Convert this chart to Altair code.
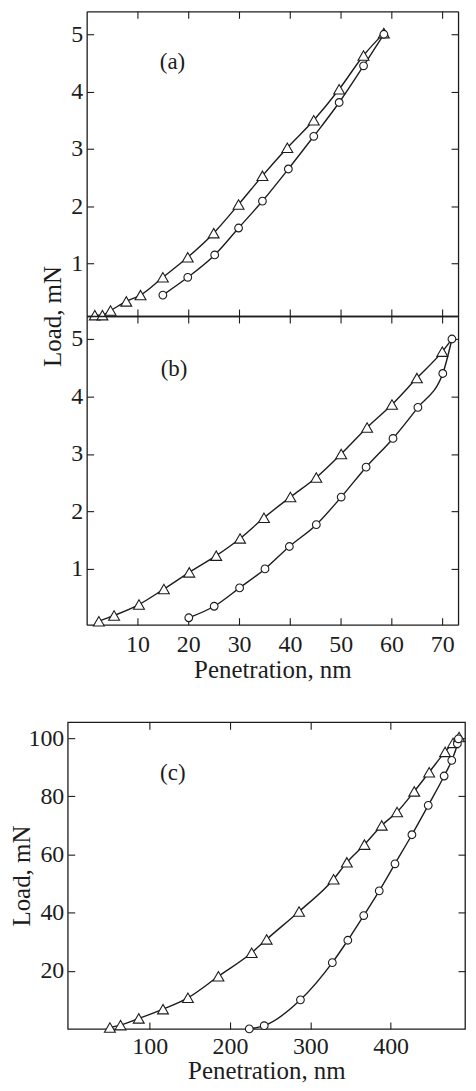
import altair as alt
import pandas as pd

# ---------------- data ----------------
# panel (a)
a_load_x = [1.6, 3.1, 4.7, 7.8, 10.6, 15.0, 19.9, 25.0, 29.9, 34.6, 39.5, 44.7, 49.7, 54.5, 58.5]
a_load_y = [0.10, 0.10, 0.18, 0.34, 0.45, 0.76, 1.11, 1.53, 2.03, 2.53, 3.02, 3.50, 4.04, 4.63, 5.02]
a_unload_x = [15.0, 19.9, 25.2, 29.9, 34.6, 39.7, 44.7, 49.7, 54.5, 58.5]
a_unload_y = [0.45, 0.76, 1.15, 1.62, 2.09, 2.65, 3.22, 3.81, 4.45, 5.00]

# panel (b)
b_load_x = [2.4, 5.4, 10.3, 15.2, 20.2, 25.5, 30.2, 34.9, 40.1, 45.2, 50.1, 55.2, 60.1, 65.0, 70.0]
b_load_y = [0.09, 0.19, 0.38, 0.65, 0.94, 1.23, 1.53, 1.89, 2.25, 2.59, 3.00, 3.46, 3.86, 4.32, 4.78]
b_peak_x = [71.9]
b_peak_y = [5.00]
b_unload_x = [20.1, 25.1, 30.1, 35.1, 39.9, 45.2, 50.1, 55.0, 60.3, 65.2, 70.1, 71.9]
b_unload_y = [0.15, 0.35, 0.67, 1.00, 1.39, 1.77, 2.25, 2.77, 3.27, 3.81, 4.40, 5.00]

# panel (c)
c_load_x = [50.5, 63.7, 86.4, 116.6, 147.6, 185.6, 227.0, 245.6, 286.0, 329.0, 345.5,
            367.4, 388.9, 408.0, 429.4, 448.0, 467.8, 477.7, 485.2]
c_load_y = [0.5, 1.3, 3.6, 6.8, 10.7, 18.1, 26.2, 30.8, 40.4, 51.5, 57.3,
            63.4, 70.0, 74.6, 81.7, 88.3, 95.3, 98.4, 100.4]
c_unload_x = [224.0, 242.6, 287.7, 327.4, 346.7, 366.5, 385.8, 405.4, 426.5, 446.8,
              466.6, 476.1, 483.1, 484.4]
c_unload_y = [0.0, 1.1, 10.0, 22.8, 30.5, 39.0, 47.5, 56.8, 66.8, 76.9,
              87.0, 92.4, 98.1, 99.8]

panel_tags = ["(a)", "(b)", "(c)"]
tag_x = [16.9, 17.2, 128.8]
tag_y = [4.51, 4.48, 87.9]

ab_ticks_x = [10, 20, 30, 40, 50, 60, 70]
ab_ticks_y = [1, 2, 3, 4, 5]
c_ticks_x = [100, 200, 300, 400]
c_ticks_y = [20, 40, 60, 80, 100]

x_title = "Penetration, nm"
y_title = "Load, mN"

# ---------------- style ----------------
FONT = "Liberation Serif"
INK = "#1c1c1c"
TICK = 7
SHIFT = 19  # frames of (a)/(b) start further right than the frame of (c)


def df(xs, ys):
    return pd.DataFrame({"pen": xs, "load": ys})


def tick_axis(orient, values, offset, labels=False, title=None, **extra):
    return alt.Axis(orient=orient, values=values, offset=offset, tickSize=TICK,
                    domain=False, labels=labels, grid=False, title=title, **extra)


def domain_axis(orient, offset):
    return alt.Axis(orient=orient, offset=offset, ticks=False, labels=False,
                    domain=True, grid=False, title=None)


def line(d, xs, ys, xa, ya):
    return alt.Chart(d).mark_line(interpolate="monotone", color=INK, strokeWidth=1.4).encode(
        x=alt.X("pen:Q", scale=xs, axis=xa),
        y=alt.Y("load:Q", scale=ys, axis=ya),
    )


def pts(d, xs, ys, shape, size, xa=None, ya=None):
    return alt.Chart(d).mark_point(shape=shape, size=size, filled=True, fill="white",
                                   stroke=INK, strokeWidth=1.1, opacity=1).encode(
        x=alt.X("pen:Q", scale=xs, axis=xa),
        y=alt.Y("load:Q", scale=ys, axis=ya),
    )


def tag(i, xs, ys):
    d = pd.DataFrame({"pen": [tag_x[i]], "load": [tag_y[i]], "tag": [panel_tags[i]]})
    return alt.Chart(d).mark_text(font=FONT, fontSize=23, color=INK).encode(
        x=alt.X("pen:Q", scale=xs, axis=None),
        y=alt.Y("load:Q", scale=ys, axis=None),
        text="tag:N",
    )


# ---------------- panels (a) and (b) ----------------
xs_ab = alt.Scale(domain=[0, 73.1], range=[SHIFT, 373 + SHIFT], nice=False, zero=False)


def small_panel(load_x, load_y, line_x, line_y, unload_x, unload_y, i, ys, h, bottom_labels, left_extra):
    return alt.layer(
        line(df(line_x, line_y), xs_ab, ys,
             tick_axis("bottom", ab_ticks_x, -TICK, labels=bottom_labels,
                       title=x_title if bottom_labels else None,
                       **({"labelPadding": 8, "titlePadding": 1} if bottom_labels else {})),
             tick_axis("left", ab_ticks_y, -(SHIFT + TICK), labels=True, labelPadding=4, **left_extra)),
        line(df(unload_x, unload_y), xs_ab, ys,
             tick_axis("top", ab_ticks_x, -TICK),
             tick_axis("right", ab_ticks_y, -TICK)),
        pts(df(load_x, load_y), xs_ab, ys, "triangle-up", 120,
            xa=domain_axis("bottom", 0), ya=domain_axis("left", -SHIFT)),
        pts(df(unload_x, unload_y), xs_ab, ys, "circle", 60,
            xa=domain_axis("top", 0), ya=domain_axis("right", 0)),
        tag(i, xs_ab, ys),
    ).resolve_axis(x="independent", y="independent").properties(
        width=373 + SHIFT, height=h, view=alt.ViewBackground(strokeOpacity=0))


ys_a = alt.Scale(domain=[0.085, 5.40], nice=False, zero=False)
pa = small_panel(a_load_x, a_load_y, a_load_x, a_load_y, a_unload_x, a_unload_y, 0, ys_a, 306,
                 False, {"title": y_title, "titleX": -28, "titleY": 306})

ys_b = alt.Scale(domain=[0.03, 5.40], nice=False, zero=False)
pb = small_panel(b_load_x, b_load_y, b_load_x + b_peak_x, b_load_y + b_peak_y,
                 b_unload_x, b_unload_y, 1, ys_b, 310, True, {})

# ---------------- panel (c) ----------------
xs_c = alt.Scale(domain=[-2, 492.6], nice=False, zero=False)
ys_c = alt.Scale(domain=[0, 105.5], nice=False, zero=False)
pc = alt.layer(
    line(df(c_load_x, c_load_y), xs_c, ys_c,
         tick_axis("bottom", c_ticks_x, -TICK, labels=True, title=x_title,
                   labelPadding=6, titlePadding=0),
         tick_axis("left", c_ticks_y, -TICK, labels=True, title=y_title,
                   titleX=-40, titleY=154, labelPadding=4)),
    line(df(c_unload_x, c_unload_y), xs_c, ys_c,
         tick_axis("top", c_ticks_x, -TICK),
         tick_axis("right", c_ticks_y, -TICK)),
    pts(df(c_load_x, c_load_y), xs_c, ys_c, "triangle-up", 120),
    pts(df(c_unload_x, c_unload_y), xs_c, ys_c, "circle", 60),
    tag(2, xs_c, ys_c),
).resolve_axis(x="independent", y="independent").properties(width=399, height=308)

top = alt.vconcat(pa, pb, spacing=0, bounds="flush")

chart = alt.vconcat(top, pc, spacing=38).properties(
    padding={"left": 1, "top": 0, "right": 0, "bottom": 0}
).configure_view(
    stroke=INK, strokeWidth=1.3
).configure_axis(
    labelFont=FONT, titleFont=FONT, labelFontSize=24, titleFontSize=25,
    labelColor=INK, titleColor=INK, tickColor=INK, domainColor=INK,
    tickWidth=1.1, domainWidth=1.3, titleFontWeight="normal", labelOverlap=False,
)

chart.save("out.html", embed_options={"renderer": "svg", "actions": False})
